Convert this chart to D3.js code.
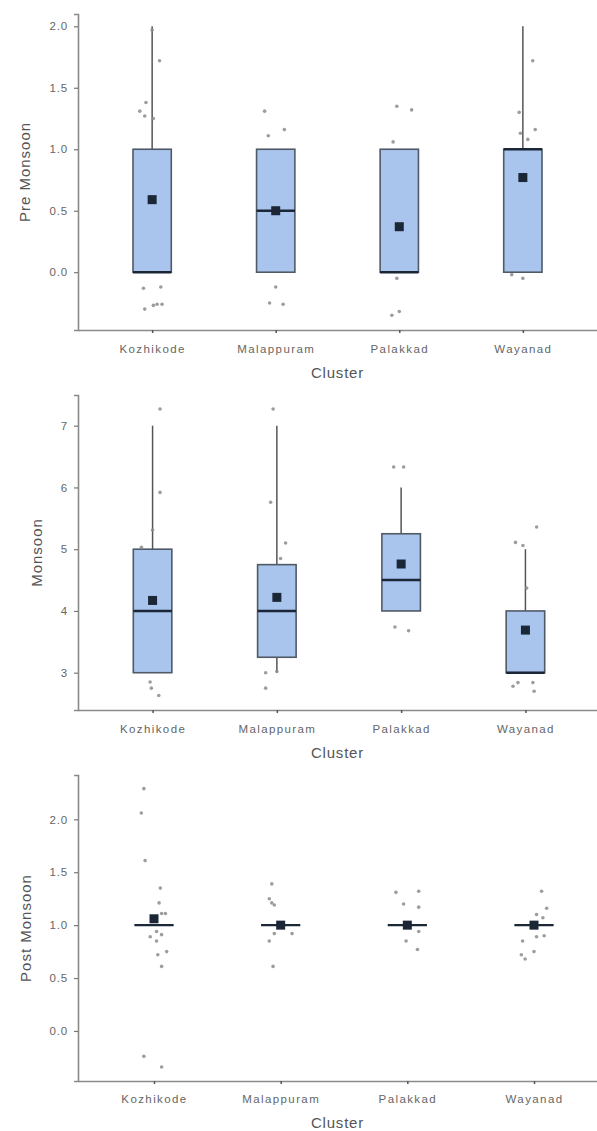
<!DOCTYPE html>
<html><head><meta charset="utf-8">
<script src="https://cdn.jsdelivr.net/npm/d3@7"></script>
<style>body{margin:0;background:#fff}svg{display:block}text{font-family:"Liberation Sans",Arial,sans-serif}</style>
</head><body>
<script>
// ---------- data ----------
const categories = ["Kozhikode", "Malappuram", "Palakkad", "Wayanad"];
const xTitle = "Cluster";
const panelTitles = ["Pre Monsoon", "Monsoon", "Post Monsoon"];

const preTicks = [0.0, 0.5, 1.0, 1.5, 2.0];
const monTicks = [3, 4, 5, 6, 7];
const postTicks = [0.0, 0.5, 1.0, 1.5, 2.0];

// box stats: [whiskerLow, q1, median, q3, whiskerHigh]
const preBox  = [[0,0,0,1,2],[0,0,0.5,1,1],[0,0,0,1,1],[0,0,1,1,2]];
const monBox  = [[3,3,4,5,7],[3,3.25,4,4.75,7],[4,4,4.5,5.25,6],[3,3,3,4,5]];
const postBox = [[1,1,1,1,1],[1,1,1,1,1],[1,1,1,1,1],[1,1,1,1,1]];

const preMean  = [0.59, 0.50, 0.37, 0.77];
const monMean  = [4.17, 4.22, 4.76, 3.69];
const postMean = [1.06, 1.00, 1.00, 1.00];

// jittered observations: [value, jitter (in category units)]
const prePoints = [
  [[1.97,0],[1.72,0.06],[1.38,-0.05],[1.31,-0.10],[1.27,-0.06],[1.25,0.01],[-0.13,-0.07],[-0.12,0.07],[-0.30,-0.06],[-0.27,0.01],[-0.26,0.04],[-0.26,0.08]],
  [[1.31,-0.09],[1.11,-0.06],[1.16,0.07],[-0.12,0],[-0.25,-0.05],[-0.26,0.06]],
  [[1.35,-0.02],[1.32,0.10],[1.06,-0.05],[-0.05,-0.02],[-0.35,-0.06],[-0.32,0]],
  [[1.72,0.08],[1.30,-0.03],[1.16,0.10],[1.13,-0.02],[1.08,0.04],[-0.02,-0.09],[-0.05,0]]
];
const monPoints = [
  [[7.27,0.06],[5.92,0.06],[5.31,0],[5.03,-0.09],[2.85,-0.02],[2.75,-0.01],[2.63,0.05]],
  [[7.27,-0.03],[5.76,-0.05],[5.10,0.07],[4.85,0.03],[3.00,-0.09],[3.02,0.0],[2.75,-0.09]],
  [[6.33,-0.06],[6.33,0.02],[3.74,-0.05],[3.68,0.06]],
  [[5.36,0.09],[5.11,-0.08],[5.06,-0.02],[4.37,0.01],[2.84,-0.06],[2.78,-0.10],[2.84,0.06],[2.70,0.07]]
];
const postPoints = [
  [[2.29,-0.08],[2.06,-0.10],[1.61,-0.07],[1.35,0.05],[1.21,0.04],[1.11,0.06],[1.11,0.09],[0.94,0.02],[0.89,-0.03],[0.91,0.06],[0.85,0.02],[0.75,0.10],[0.72,0.03],[0.61,0.06],[-0.24,-0.08],[-0.34,0.06]],
  [[1.39,-0.07],[1.25,-0.09],[1.21,-0.07],[1.19,-0.05],[0.92,-0.05],[0.92,0.09],[0.85,-0.09],[0.61,-0.06]],
  [[1.31,-0.09],[1.32,0.09],[1.20,-0.03],[1.17,0.09],[0.94,0.09],[0.85,-0.01],[0.77,0.08]],
  [[1.32,0.06],[1.16,0.10],[1.10,0.02],[1.07,0.07],[0.89,0.02],[0.90,0.08],[0.85,-0.09],[0.75,0.0],[0.72,-0.10],[0.68,-0.07]]
];

// ---------- layout ----------
const W = 597, H = 1131;
const svg = d3.select("body").append("svg").attr("width", W).attr("height", H);

const panels = [
  {title: panelTitles[0], ticks: preTicks, fmt: d3.format(".1f"), box: preBox, mean: preMean, pts: prePoints,
   domain: [-0.47, 2.1], top: 14, bottom: 330, xEnd: 597, titleX: 25, tickBase: 353, xTitleBase: 378},
  {title: panelTitles[1], ticks: monTicks, fmt: d3.format("d"), box: monBox, mean: monMean, pts: monPoints,
   domain: [2.396, 7.497], top: 395, bottom: 710, xEnd: 600, titleX: 37, tickBase: 733, xTitleBase: 758},
  {title: panelTitles[2], ticks: postTicks, fmt: d3.format(".1f"), box: postBox, mean: postMean, pts: postPoints,
   domain: [-0.473, 2.419], top: 775, bottom: 1081, xEnd: 610, titleX: 26, tickBase: 1103, xTitleBase: 1128}
];
const left = 78;
const axisCol = "#8a8a8a", textCol = "#666";
const fillCol = "#a9c5ee", boxStroke = "#505a66", darkCol = "#1b2636", pointCol = "#8c8c8c";

panels.forEach(p => {
  const g = svg.append("g");
  const x = d3.scalePoint().domain(categories).range([left, p.xEnd]).padding(0.6);
  const y = d3.scaleLinear().domain(p.domain).range([p.bottom, p.top]);
  const step = x.step();
  const bw = step * 0.31;

  // y axis
  const ya = g.append("g").attr("transform", `translate(${left},0)`)
    .call(d3.axisLeft(y).tickValues(p.ticks).tickFormat(p.fmt).tickSize(4).tickPadding(6));
  ya.select(".domain").attr("stroke", axisCol).attr("stroke-width", 1.6);
  ya.selectAll(".tick line").attr("stroke", "#777").attr("stroke-width", 1.2);
  ya.selectAll(".tick text").attr("fill", textCol).style("font-size", "11.5px").style("letter-spacing", "0.8px");

  // x axis
  const xa = g.append("g").attr("transform", `translate(0,${p.bottom})`)
    .call(d3.axisBottom(x).tickSize(3).tickPadding(0).tickSizeOuter(0));
  xa.select(".domain").attr("stroke", axisCol).attr("stroke-width", 1.6);
  xa.selectAll(".tick line").attr("stroke", "#555").attr("stroke-width", 1.5);
  xa.selectAll(".tick text").attr("fill", textCol).style("font-size", "11.5px").style("letter-spacing", "1.4px")
    .attr("dy", null).attr("y", p.tickBase - p.bottom);

  // titles
  g.append("text").attr("x", (left + 597) / 2).attr("y", p.xTitleBase).attr("text-anchor", "middle")
    .attr("fill", "#555").style("font-size", "15px").style("letter-spacing", "0.8px").text(xTitle);
  g.append("text").attr("transform", `translate(${p.titleX},${(p.top + p.bottom) / 2}) rotate(-90)`)
    .attr("text-anchor", "middle").attr("dy", "0.35em").attr("fill", "#555")
    .style("font-size", "15px").style("letter-spacing", "1px").text(p.title);

  const data = categories.map((c, i) => ({c, s: p.box[i], m: p.mean[i], pts: p.pts[i]}));

  const grp = g.selectAll(".cat").data(data).join("g");
  // whiskers
  grp.append("line").attr("x1", d => x(d.c)).attr("x2", d => x(d.c))
    .attr("y1", d => y(d.s[3])).attr("y2", d => y(d.s[4])).attr("stroke", "#555").attr("stroke-width", 1.5);
  grp.append("line").attr("x1", d => x(d.c)).attr("x2", d => x(d.c))
    .attr("y1", d => y(d.s[1])).attr("y2", d => y(d.s[0])).attr("stroke", "#555").attr("stroke-width", 1.5);
  // box
  grp.append("rect").attr("x", d => x(d.c) - bw / 2).attr("width", bw)
    .attr("y", d => y(d.s[3])).attr("height", d => y(d.s[1]) - y(d.s[3]))
    .attr("fill", fillCol).attr("stroke", boxStroke).attr("stroke-width", 1.6);
  // median
  grp.append("line").attr("x1", d => x(d.c) - bw / 2).attr("x2", d => x(d.c) + bw / 2)
    .attr("y1", d => y(d.s[2])).attr("y2", d => y(d.s[2])).attr("stroke", darkCol).attr("stroke-width", 2.4);
  // points
  grp.selectAll("circle").data(d => d.pts.map(v => ({c: d.c, v: v[0], j: v[1]}))).join("circle")
    .attr("cx", d => x(d.c) + d.j * step).attr("cy", d => y(d.v)).attr("r", 1.8)
    .attr("fill", pointCol).attr("opacity", 0.85);
  // mean
  grp.append("rect").attr("x", d => x(d.c) - 4.5).attr("y", d => y(d.m) - 4.5)
    .attr("width", 9).attr("height", 9).attr("fill", darkCol);
});
</script>
</body></html>
